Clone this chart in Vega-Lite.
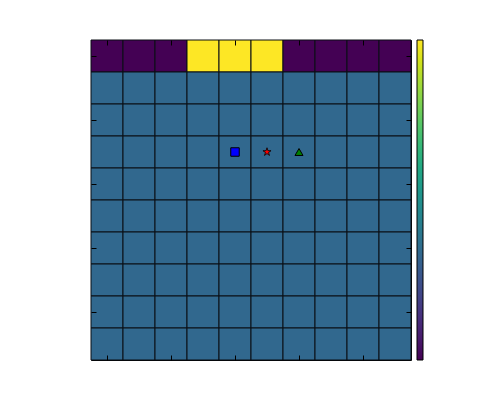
{
  "$schema": "https://vega.github.io/schema/vega-lite/v6.json",
  "autosize": {"type": "none"},
  "padding": {"left": 91, "top": 40, "right": 89, "bottom": 40},
  "width": 320,
  "height": 320,
  "background": "white",
  "config": {"view": {"stroke": "black", "strokeWidth": 1}},
  "datasets": {
    "cells": [
      {"c":0,"r":0,"v":0},{"c":1,"r":0,"v":0},{"c":2,"r":0,"v":0},{"c":3,"r":0,"v":1.5},{"c":4,"r":0,"v":1.5},{"c":5,"r":0,"v":1.5},{"c":6,"r":0,"v":0},{"c":7,"r":0,"v":0},{"c":8,"r":0,"v":0},{"c":9,"r":0,"v":0},
      {"c":0,"r":1,"v":0.5},{"c":1,"r":1,"v":0.5},{"c":2,"r":1,"v":0.5},{"c":3,"r":1,"v":0.5},{"c":4,"r":1,"v":0.5},{"c":5,"r":1,"v":0.5},{"c":6,"r":1,"v":0.5},{"c":7,"r":1,"v":0.5},{"c":8,"r":1,"v":0.5},{"c":9,"r":1,"v":0.5},
      {"c":0,"r":2,"v":0.5},{"c":1,"r":2,"v":0.5},{"c":2,"r":2,"v":0.5},{"c":3,"r":2,"v":0.5},{"c":4,"r":2,"v":0.5},{"c":5,"r":2,"v":0.5},{"c":6,"r":2,"v":0.5},{"c":7,"r":2,"v":0.5},{"c":8,"r":2,"v":0.5},{"c":9,"r":2,"v":0.5},
      {"c":0,"r":3,"v":0.5},{"c":1,"r":3,"v":0.5},{"c":2,"r":3,"v":0.5},{"c":3,"r":3,"v":0.5},{"c":4,"r":3,"v":0.5},{"c":5,"r":3,"v":0.5},{"c":6,"r":3,"v":0.5},{"c":7,"r":3,"v":0.5},{"c":8,"r":3,"v":0.5},{"c":9,"r":3,"v":0.5},
      {"c":0,"r":4,"v":0.5},{"c":1,"r":4,"v":0.5},{"c":2,"r":4,"v":0.5},{"c":3,"r":4,"v":0.5},{"c":4,"r":4,"v":0.5},{"c":5,"r":4,"v":0.5},{"c":6,"r":4,"v":0.5},{"c":7,"r":4,"v":0.5},{"c":8,"r":4,"v":0.5},{"c":9,"r":4,"v":0.5},
      {"c":0,"r":5,"v":0.5},{"c":1,"r":5,"v":0.5},{"c":2,"r":5,"v":0.5},{"c":3,"r":5,"v":0.5},{"c":4,"r":5,"v":0.5},{"c":5,"r":5,"v":0.5},{"c":6,"r":5,"v":0.5},{"c":7,"r":5,"v":0.5},{"c":8,"r":5,"v":0.5},{"c":9,"r":5,"v":0.5},
      {"c":0,"r":6,"v":0.5},{"c":1,"r":6,"v":0.5},{"c":2,"r":6,"v":0.5},{"c":3,"r":6,"v":0.5},{"c":4,"r":6,"v":0.5},{"c":5,"r":6,"v":0.5},{"c":6,"r":6,"v":0.5},{"c":7,"r":6,"v":0.5},{"c":8,"r":6,"v":0.5},{"c":9,"r":6,"v":0.5},
      {"c":0,"r":7,"v":0.5},{"c":1,"r":7,"v":0.5},{"c":2,"r":7,"v":0.5},{"c":3,"r":7,"v":0.5},{"c":4,"r":7,"v":0.5},{"c":5,"r":7,"v":0.5},{"c":6,"r":7,"v":0.5},{"c":7,"r":7,"v":0.5},{"c":8,"r":7,"v":0.5},{"c":9,"r":7,"v":0.5},
      {"c":0,"r":8,"v":0.5},{"c":1,"r":8,"v":0.5},{"c":2,"r":8,"v":0.5},{"c":3,"r":8,"v":0.5},{"c":4,"r":8,"v":0.5},{"c":5,"r":8,"v":0.5},{"c":6,"r":8,"v":0.5},{"c":7,"r":8,"v":0.5},{"c":8,"r":8,"v":0.5},{"c":9,"r":8,"v":0.5},
      {"c":0,"r":9,"v":0.5},{"c":1,"r":9,"v":0.5},{"c":2,"r":9,"v":0.5},{"c":3,"r":9,"v":0.5},{"c":4,"r":9,"v":0.5},{"c":5,"r":9,"v":0.5},{"c":6,"r":9,"v":0.5},{"c":7,"r":9,"v":0.5},{"c":8,"r":9,"v":0.5},{"c":9,"r":9,"v":0.5}
    ],
    "markers": [
      {"c":4,"r":3,"kind":"square"},
      {"c":5,"r":3,"kind":"star"},
      {"c":6,"r":3,"kind":"triangle"}
    ]
  },
  "layer": [
    {
      "data": {"name": "cells"},
      "mark": {"type": "rect", "stroke": "#0a0f14", "strokeWidth": 1},
      "encoding": {
        "x": {"field": "c", "type": "ordinal", "scale": {"domain": [0,1,2,3,4,5,6,7,8,9], "paddingInner": 0, "paddingOuter": 0},
              "axis": {"orient": "bottom", "zindex": 2, "values": [0,2,4,6,8], "labels": false, "title": null, "domain": false, "tickSize": -5, "tickColor": "black", "tickWidth": 1}},
        "y": {"field": "r", "type": "ordinal", "scale": {"domain": [0,1,2,3,4,5,6,7,8,9], "paddingInner": 0, "paddingOuter": 0},
              "axis": {"orient": "left", "zindex": 2, "values": [0,2,4,6,8], "labels": false, "title": null, "domain": false, "tickSize": -5, "tickColor": "black", "tickWidth": 1}},
        "color": {"field": "v", "type": "quantitative", "scale": {"scheme": "viridis", "domain": [0, 1.5]},
                  "legend": {"title": null, "orient": "right", "offset": 5, "padding": 0, "gradientLength": 320, "gradientThickness": 6, "labelOpacity": 0, "labelFontSize": 1, "gradientStrokeColor": "black", "gradientStrokeWidth": 1, "values": [0.2,0.4,0.6,0.8,1.0,1.2,1.4]}}
      }
    },
    {
      "data": {"name": "markers"},
      "transform": [{"filter": "datum.kind === 'square'"}],
      "mark": {"type": "point", "shape": "square", "filled": true, "fill": "blue", "stroke": "black", "strokeWidth": 1, "size": 72, "opacity": 1},
      "encoding": {
        "x": {"field": "c", "type": "ordinal", "axis": {"orient": "top", "zindex": 2, "values": [0,2,4,6,8], "labels": false, "title": null, "domain": false, "tickSize": -5, "tickColor": "black", "tickWidth": 1}},
        "y": {"field": "r", "type": "ordinal", "axis": {"orient": "right", "zindex": 2, "values": [0,2,4,6,8], "labels": false, "title": null, "domain": false, "tickSize": -5, "tickColor": "black", "tickWidth": 1}}
      }
    },
    {
      "data": {"name": "markers"},
      "transform": [{"filter": "datum.kind === 'star'"}],
      "mark": {"type": "point", "shape": "M0,-1L0.2245,-0.309L0.951,-0.309L0.363,0.118L0.588,0.809L0,0.382L-0.588,0.809L-0.363,0.118L-0.951,-0.309L-0.2245,-0.309Z", "filled": true, "fill": "red", "stroke": "black", "strokeWidth": 0.8, "size": 72, "opacity": 1},
      "encoding": {
        "x": {"field": "c", "type": "ordinal", "axis": null},
        "y": {"field": "r", "type": "ordinal", "axis": null}
      }
    },
    {
      "data": {"name": "markers"},
      "transform": [{"filter": "datum.kind === 'triangle'"}],
      "mark": {"type": "point", "shape": "triangle-up", "filled": true, "fill": "green", "stroke": "black", "strokeWidth": 1, "size": 64, "opacity": 1},
      "encoding": {
        "x": {"field": "c", "type": "ordinal", "axis": null},
        "y": {"field": "r", "type": "ordinal", "axis": null}
      }
    }
  ],
  "resolve": {"axis": {"x": "independent", "y": "independent"}}
}
